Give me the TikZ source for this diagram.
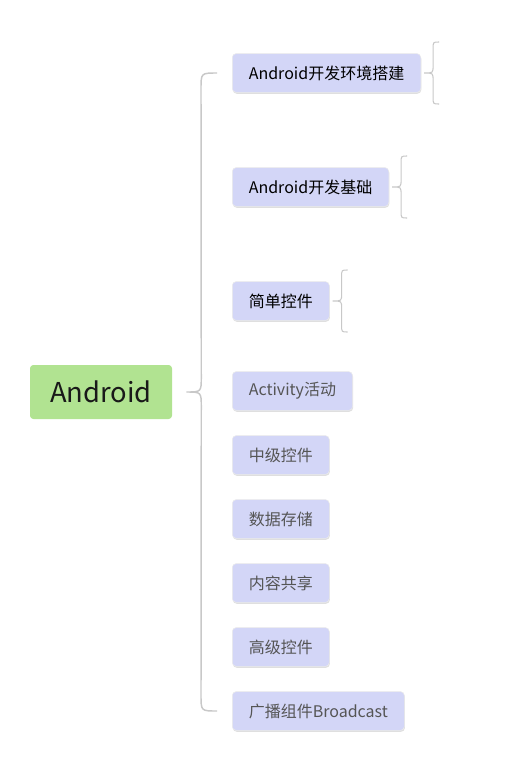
\documentclass[tikz,border=0pt]{standalone}
\usepackage{fontspec}
\setmainfont{Noto Sans CJK SC}
\usepackage{tikz}
\usetikzlibrary{positioning, calc, shadows}
\definecolor{rootgreen}{HTML}{B1E391}
\definecolor{topicblue}{HTML}{D3D6F7}
\definecolor{braceline}{HTML}{C8C8C8}
\definecolor{dimtext}{HTML}{555555}

\begin{document}
\begin{tikzpicture}[x=0.75pt, y=-0.75pt,
 root/.style={fill=rootgreen, rounded corners=2.5pt, minimum width=106.5pt,
 minimum height=40.5pt, font=\fontsize{20.5}{24}\selectfont, text=black!90},
 topic/.style={fill=topicblue, draw=black!8, line width=0.4pt, rounded corners=3pt,
 inner xsep=12.4pt, minimum height=29.2pt, font=\fontsize{12}{14}\selectfont,
 drop shadow={shadow xshift=0.4pt, shadow yshift=-1pt, fill=black!25, opacity=0.5}},
 bracelink/.style={draw=braceline, line width=1.1pt}]
 \useasboundingbox (0,0) rectangle (514,760);
 \node[root] (root) at (101,392) {Android};
 \foreach \y/\txt/\col [count=\i] in {73/Android开发环境搭建/black, 187/Android开发基础/black,
 301/简单控件/black, 391/Activity活动/dimtext, 455/中级控件/dimtext,
 519/数据存储/dimtext, 583/内容共享/dimtext, 647/高级控件/dimtext,
 711/广播组件Broadcast/dimtext} {
 \node[topic, anchor=west, text=\col] (c\i) at (232,\y) {\txt};
 }
 \coordinate (rtip) at ($(root.east)+(14,0)$);
 \draw[bracelink] ($(c1.west)+(-15,0)$) .. controls ($(c1.west)+(-31,0)$) .. ($(c1.west)+(-31,16)$)
 -- ($(rtip)+(15,-15)$) .. controls ($(rtip)+(15,0)$) .. (rtip)
 .. controls ($(rtip)+(15,0)$) .. ($(rtip)+(15,15)$)
 -- ($(c9.west)+(-31,-16)$) .. controls ($(c9.west)+(-31,0)$) .. ($(c9.west)+(-15,0)$);
 \foreach \i in {1,2,3} {
 \draw[bracelink, line width=0.8pt] ($(c\i.east)+(18,-31)$) .. controls ($(c\i.east)+(12,-31)$) .. ($(c\i.east)+(12,-24)$)
 -- ($(c\i.east)+(12,-7)$) .. controls ($(c\i.east)+(12,0)$) .. ($(c\i.east)+(3,0)$)
 .. controls ($(c\i.east)+(12,0)$) .. ($(c\i.east)+(12,7)$)
 -- ($(c\i.east)+(12,24)$) .. controls ($(c\i.east)+(12,31)$) .. ($(c\i.east)+(18,31)$);
 }
\end{tikzpicture}
\end{document}
